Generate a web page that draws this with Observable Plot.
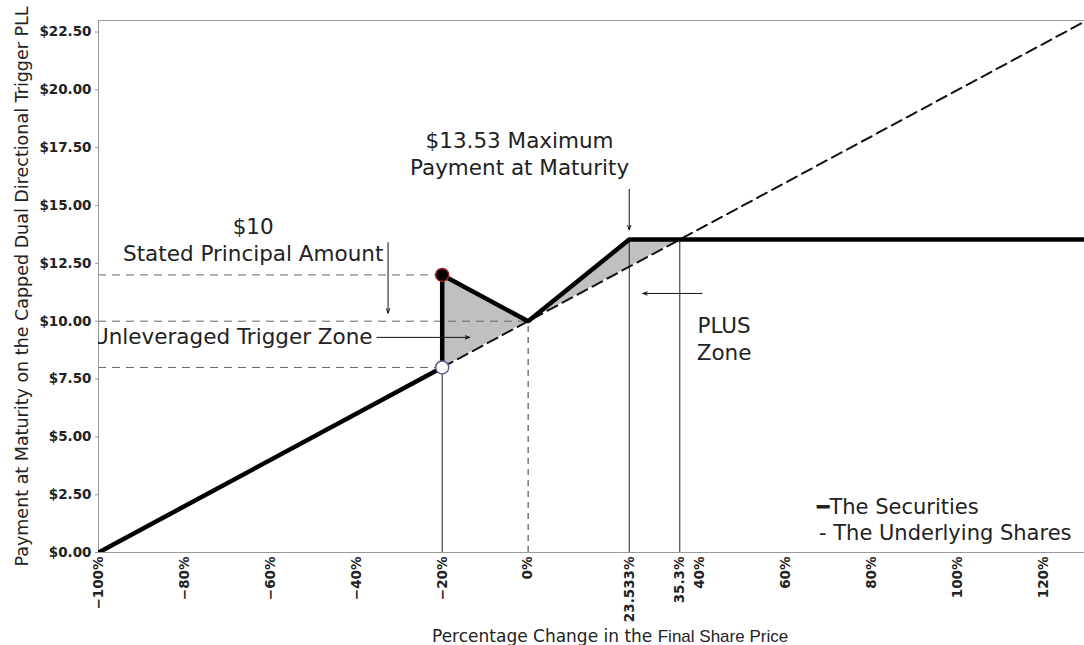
<!DOCTYPE html>
<html>
<head>
<meta charset="utf-8">
<script src="https://cdn.jsdelivr.net/npm/d3@7"></script>
<script src="https://cdn.jsdelivr.net/npm/@observablehq/plot@0.6"></script>
<style>
  html, body { margin: 0; padding: 0; background: #fff; }
  #wrap { position: relative; width: 1084px; height: 645px; font-family: "DejaVu Sans", sans-serif; }
  #xlabel { position: absolute; left: 432px; top: 626px; white-space: nowrap; font-size: 17px; color: #222; line-height: 20px; }
  #xlabel .narrow { font-family: "Liberation Sans Narrow", "Liberation Sans", sans-serif; font-size: 17px; }
</style>
</head>
<body>
<div id="wrap">
  <div id="chart"></div>
  <div id="xlabel">Percentage Change in the <span class="narrow">Final Share Price</span></div>
</div>
<script>
// ---- data ----
const securitiesX = [-100, -20, -20, 0, 23.533, 129.5];
const securitiesY = [0, 8, 12, 10, 13.53, 13.53];
const underlyingX = [-100, 129.5];
const underlyingY = [0, 22.95];

const triggerZoneX = [-20, 0];
const triggerZoneLow = [8, 10];
const triggerZoneHigh = [12, 10];
const plusZoneX = [0, 23.533, 35.3];
const plusZoneLow = [10, 12.3533, 13.53];
const plusZoneHigh = [10, 13.53, 13.53];

const xTicks = [-100, -80, -60, -40, -20, 0, 23.533, 35.3, 40, 60, 80, 100, 120];
const xTickLabels = ["−100%", "−80%", "−60%", "−40%", "−20%", "0%", "23.533%", "35.3%", "40%", "60%", "80%", "100%", "120%"];
const yTicks = [0, 2.5, 5, 7.5, 10, 12.5, 15, 17.5, 20, 22.5];
const yTickLabels = ["$0.00", "$2.50", "$5.00", "$7.50", "$10.00", "$12.50", "$15.00", "$17.50", "$20.00", "$22.50"];

const levelLines = [ {y: 12, x2: -20}, {y: 10, x2: 0}, {y: 8, x2: -20} ];
const solidVerticals = [ {x: -20, y2: 8}, {x: 23.533, y2: 13.53}, {x: 35.3, y2: 13.53} ];
const dashedVerticals = [ {x: 0, y2: 10} ];
const triggerDot = {x: -20, y: 12};
const knockDot = {x: -20, y: 8};

const arrows = [
  {x1: 23.533, y1: 15.7, x2: 23.533, y2: 13.95},
  {x1: -32.6, y1: 13.4, x2: -32.6, y2: 10.35},
  {x1: -35.2, y1: 9.3, x2: -13.6, y2: 9.3},
  {x1: 40.5, y1: 11.2, x2: 26.7, y2: 11.2}
];
const notes = [
  {x: -2, y: 17.27, text: "$13.53 Maximum\nPayment at Maturity", anchor: "middle"},
  {x: -64, y: 13.57, text: "$10\nStated Principal Amount", anchor: "middle"},
  {x: 45.6, y: 9.26, text: "PLUS\nZone", anchor: "start"}
];
const clippedNote = [{x: -36.2, y: 9.3, text: "Unleveraged Trigger Zone"}];
const legendItems = [
  {x: 67.2, y: 1.95, text: "━The Securities"},
  {x: 67.7, y: 0.82, text: "- The Underlying Shares"}
];
const yTitle = "Payment at Maturity on the Capped Dual Directional Trigger PLL";

// ---- build ----
const zip = (xs, ys) => xs.map((x, i) => ({x, y: ys[i]}));
const zone = (xs, lo, hi) => xs.map((x, i) => ({x, y1: lo[i], y2: hi[i]}));
const fmtX = d => xTickLabels[xTicks.indexOf(d)];
const fmtY = d => yTickLabels[yTicks.indexOf(d)];

const chart = Plot.plot({
  width: 1084,
  height: 627,
  marginLeft: 98,
  marginRight: 0,
  marginTop: 20,
  marginBottom: 75,
  style: {fontFamily: "DejaVu Sans, sans-serif", color: "#222", background: "#fff"},
  x: {domain: [-100, 129.5]},
  y: {domain: [0, 23]},
  marks: [
    Plot.areaY(zone(triggerZoneX, triggerZoneLow, triggerZoneHigh), {x: "x", y1: "y1", y2: "y2", fill: "#c0c0c0"}),
    Plot.areaY(zone(plusZoneX, plusZoneLow, plusZoneHigh), {x: "x", y1: "y1", y2: "y2", fill: "#c0c0c0"}),
    Plot.ruleY(levelLines, {y: "y", x1: -100, x2: "x2", stroke: "#666", strokeWidth: 1, strokeDasharray: "8,6"}),
    Plot.ruleX(solidVerticals, {x: "x", y1: 0, y2: "y2", stroke: "#222", strokeWidth: 1}),
    Plot.ruleX(dashedVerticals, {x: "x", y1: 0, y2: "y2", stroke: "#333", strokeWidth: 1, strokeDasharray: "6,5"}),
    Plot.frame({stroke: "#999"}),
    Plot.axisY({ticks: yTicks, tickFormat: fmtY, tickSize: 3, tickPadding: 4, label: null, fontSize: 13.5, fontWeight: "bold", stroke: "#999"}),
    Plot.axisX({ticks: xTicks, tickFormat: fmtX, tickSize: 0, tickPadding: 4, tickRotate: -90, label: null, fontSize: 13.5, fontWeight: "bold"}),
    Plot.line(zip(underlyingX, underlyingY), {x: "x", y: "y", stroke: "#111", strokeWidth: 2, strokeDasharray: "11,6", clip: true}),
    Plot.line(zip(securitiesX, securitiesY), {x: "x", y: "y", stroke: "#000", strokeWidth: 4.5, strokeLinejoin: "miter", clip: true}),
    Plot.dot([triggerDot], {x: "x", y: "y", r: 6.5, fill: "#000", stroke: "#9a2020", strokeWidth: 1.5}),
    Plot.dot([knockDot], {x: "x", y: "y", r: 6.5, fill: "#fff", stroke: "#6a5a8c", strokeWidth: 1.5}),
    Plot.arrow(arrows, {x1: "x1", y1: "y1", x2: "x2", y2: "y2", stroke: "#111", strokeWidth: 1, headLength: 7, headAngle: 40}),
    Plot.text(notes, {x: "x", y: "y", text: "text", textAnchor: "anchor", lineAnchor: "middle", lineHeight: 1.25, fontSize: 21.5, fill: "#222"}),
    Plot.text(clippedNote, {x: "x", y: "y", text: "text", textAnchor: "end", lineAnchor: "middle", fontSize: 21.5, fill: "#222", clip: true}),
    Plot.text(legendItems, {x: "x", y: "y", text: "text", textAnchor: "start", lineAnchor: "middle", fontSize: 21, fill: "#222"}),
    Plot.text([yTitle], {frameAnchor: "left", rotate: -90, dx: -76, textAnchor: "middle", lineAnchor: "middle", fontSize: 17.5, fill: "#222"})
  ]
});
document.getElementById("chart").appendChild(chart);
</script>
</body>
</html>
